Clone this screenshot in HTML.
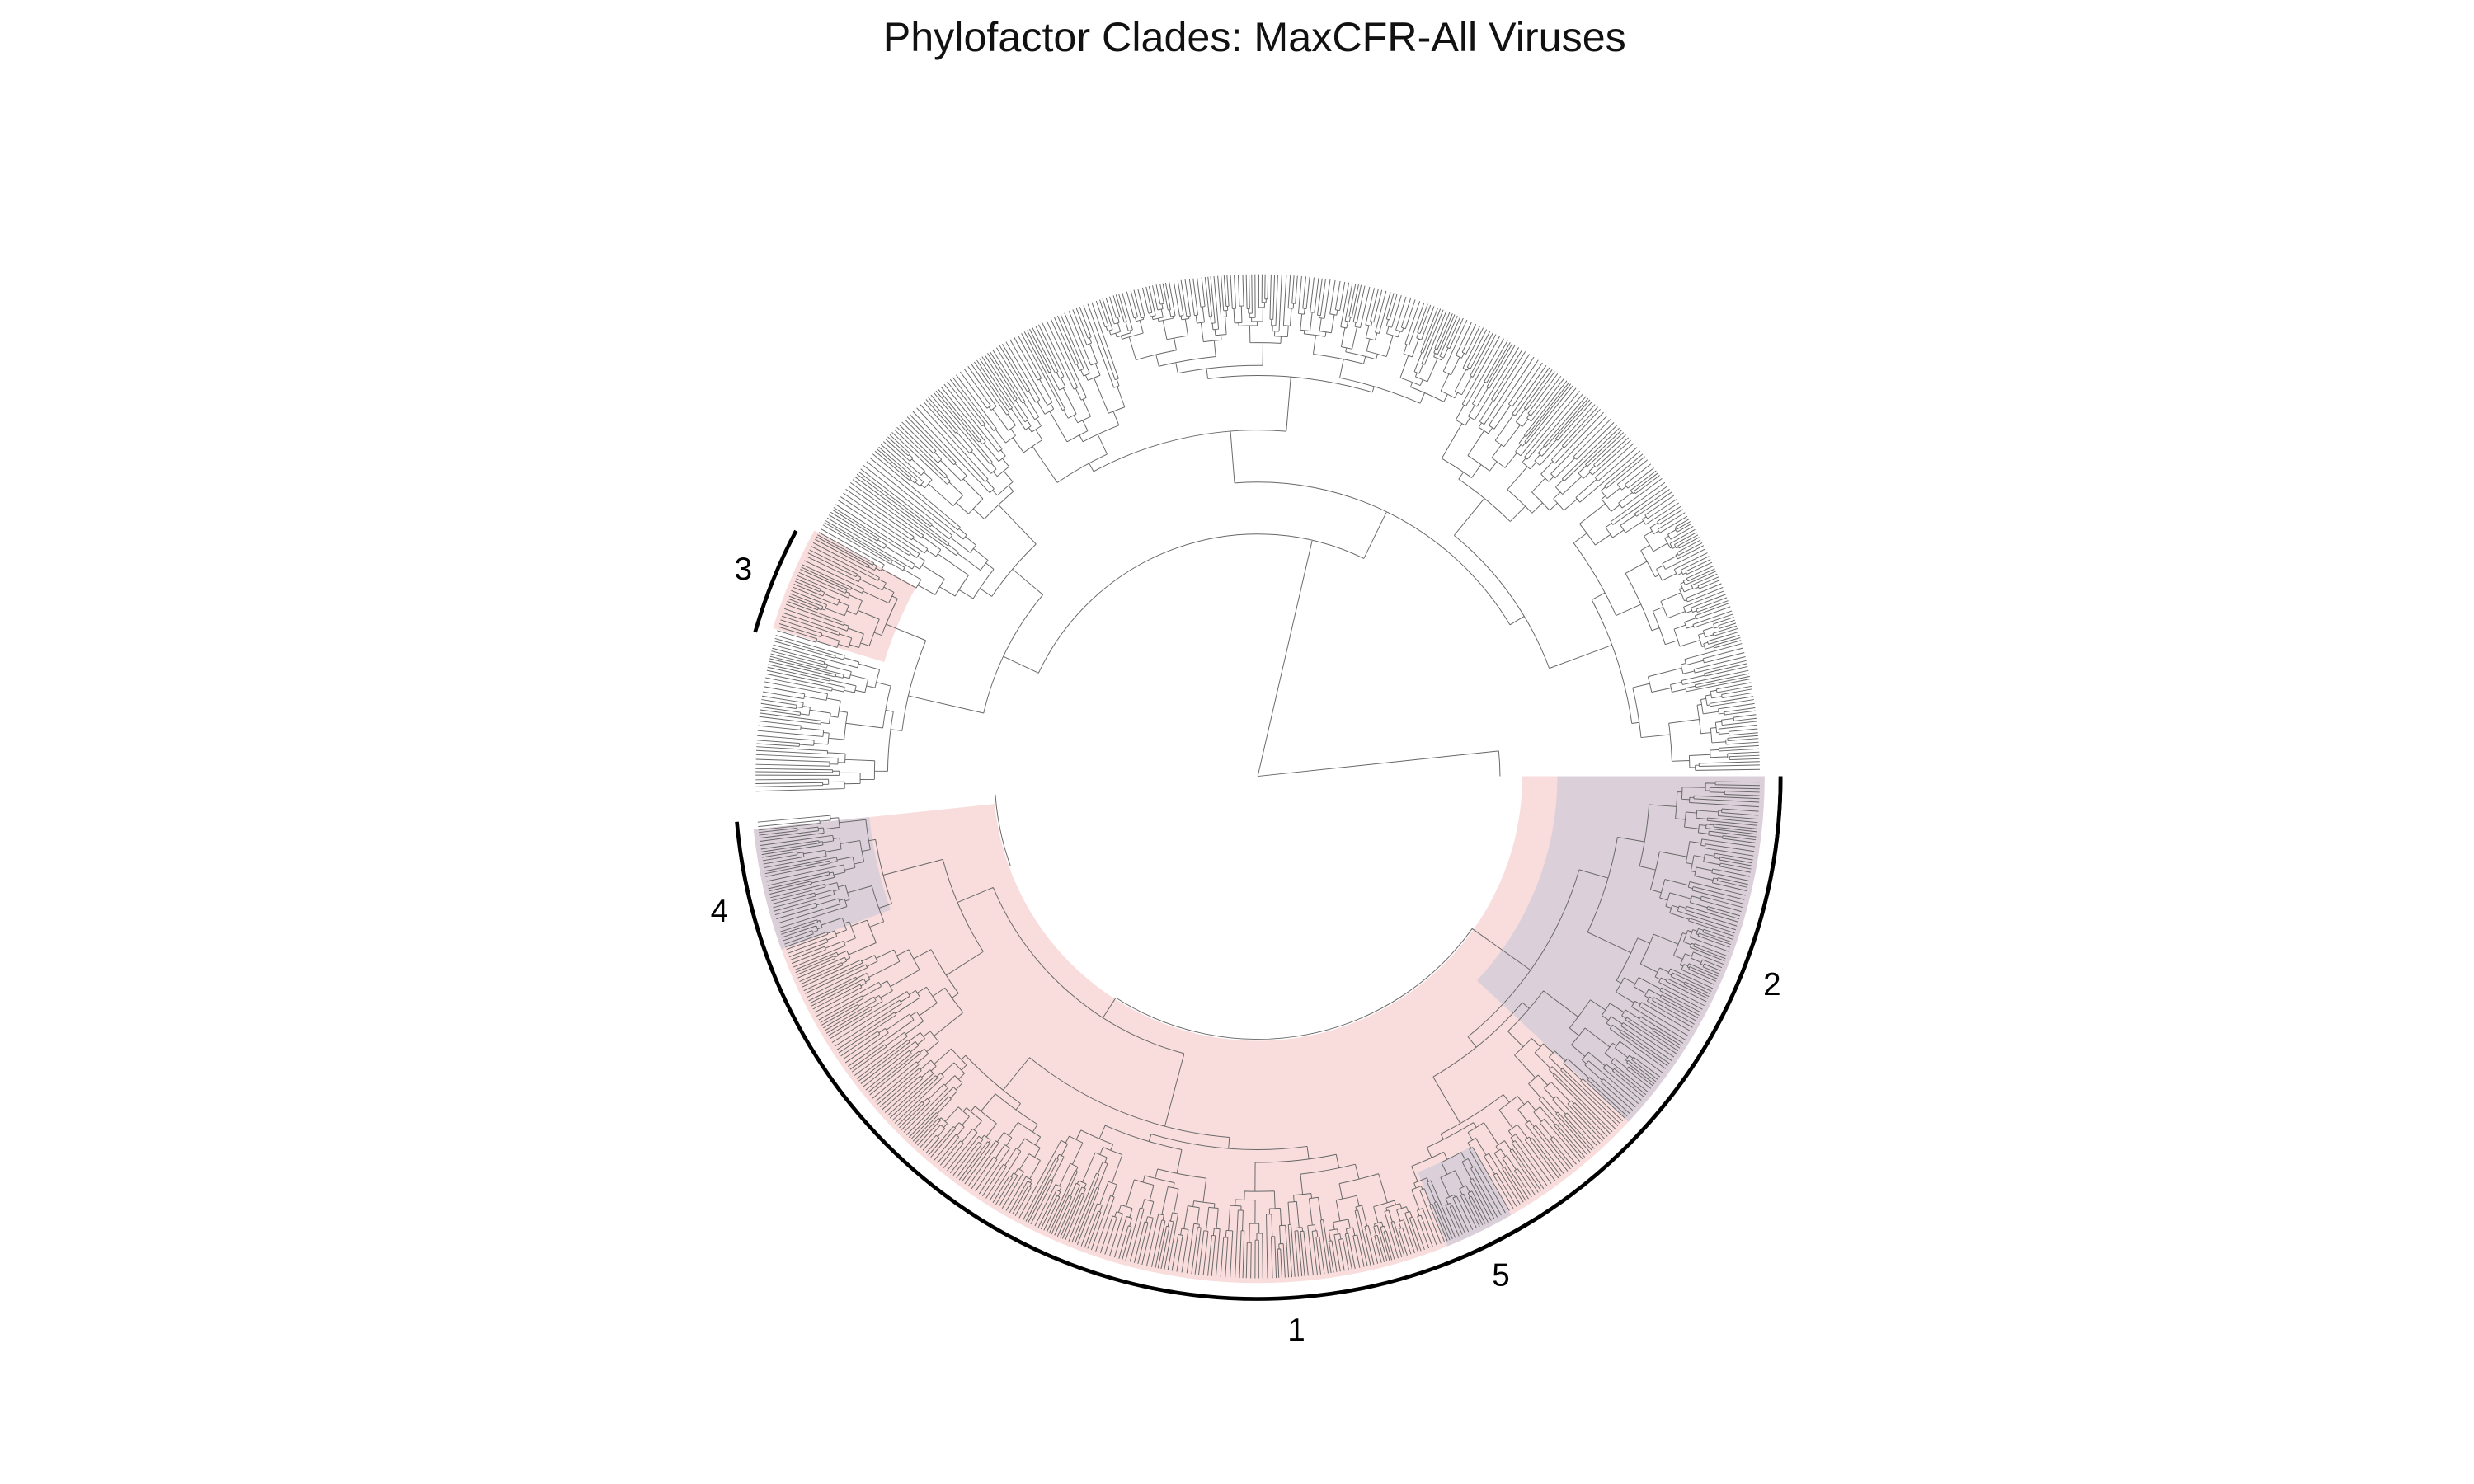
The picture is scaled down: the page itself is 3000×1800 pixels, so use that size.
<!DOCTYPE html>
<html><head><meta charset="utf-8"><title>Phylofactor Clades</title>
<style>html,body{margin:0;padding:0;background:#fff}svg{display:block}</style></head>
<body>
<svg id="chart" width="3000" height="1800" viewBox="0 0 1552 931" xmlns="http://www.w3.org/2000/svg">
<rect width="1552" height="931" fill="#fff"/>
<text x="787" y="32" text-anchor="middle" font-family="Liberation Sans, sans-serif" font-size="26" fill="#111">Phylofactor Clades: MaxCFR-All Viruses</text>
<g id="shade"></g><g id="tree"></g><g id="arcs"></g>
</svg>
<script>
const cladeNames=["1","2","3","4","5"];
const cladeStart=[0,0,197,160,60];      // degrees, clockwise from +x
const cladeEnd=[174,43,209,174,68];
const cladeInner=[166,188,245,245,268];
const cladeColor=["#f9dddd","#dbd0d9","#f9dddd","#dbd0d9","#dbd0d9"];
const arcStart=[0,0,196,158,58];
const arcEnd=[171,44,208,175,69];
const labelAngle=[86,22,202,166,64];
const splitFr=[0.5,0.35,0.62,0.45,0.7,0.28,0.55,0.4,0.66,0.52,0.3,0.58];
const stepFr=[0.12,0.2,0.08,0.3,0.15,0.25,0.1,0.18,0.35,0.06];
const cx=789,cy=487,R=315,NS="http://www.w3.org/2000/svg";
function P(r,a){const t=a*Math.PI/180;return [cx+r*Math.cos(t),cy+r*Math.sin(t)];}
function arcPath(r,a0,a1){const p=P(r,a0),q=P(r,a1);const l=(a1-a0)>180?1:0;return `M${p[0].toFixed(2)} ${p[1].toFixed(2)}A${r} ${r} 0 ${l} 1 ${q[0].toFixed(2)} ${q[1].toFixed(2)}`;}
function sector(r0,r1,a0,a1){const a=P(r1,a0),b=P(r1,a1),c=P(r0,a1),d=P(r0,a0);const l=(a1-a0)>180?1:0;
return `M${a[0]} ${a[1]}A${r1} ${r1} 0 ${l} 1 ${b[0]} ${b[1]}L${c[0]} ${c[1]}A${r0} ${r0} 0 ${l} 0 ${d[0]} ${d[1]}Z`;}
const shade=document.getElementById('shade');
for(let i=0;i<cladeNames.length;i++){
 const p=document.createElementNS(NS,'path');
 p.setAttribute('d',sector(cladeInner[i],R+3,cladeStart[i],cladeEnd[i]));
 p.setAttribute('fill',cladeColor[i]);
 
 
 shade.appendChild(p);
}
let d="",cnt=0;
function node(a0,a1,r,depth){
 const span=a1-a0;
 if(span<0.62||depth>16){const m=(a0+a1)/2;const p=P(r,m),q=P(R,m);d+=`M${p[0].toFixed(2)} ${p[1].toFixed(2)}L${q[0].toFixed(2)} ${q[1].toFixed(2)}`;return;}
 cnt++;
 const f=splitFr[(cnt*7+depth)%splitFr.length];
 const am=a0+span*f;
 const m1=(a0+am)/2,m2=(am+a1)/2;
 const g1=stepFr[(cnt*3+depth)%stepFr.length],g2=stepFr[(cnt*5+depth+1)%stepFr.length];
 const r1=Math.min(R-1,r+(R-r)*g1),r2=Math.min(R-1,r+(R-r)*g2);
 d+=arcPath(r,m1,m2);
 let p=P(r,m1),q=P(r1,m1);d+=`M${p[0].toFixed(2)} ${p[1].toFixed(2)}L${q[0].toFixed(2)} ${q[1].toFixed(2)}`;
 p=P(r,m2);q=P(r2,m2);d+=`M${p[0].toFixed(2)} ${p[1].toFixed(2)}L${q[0].toFixed(2)} ${q[1].toFixed(2)}`;
 node(a0,am,r1,depth+1);node(am,a1,r2,depth+1);
}
const rootA=[0.5,175],rootB=[178,359.5];
const mB=283;
let qb=P(152,mB);
d+=`M${cx} ${cy}L${qb[0]} ${qb[1]}`;
d+=`M${cx} ${cy}L${P(152,-6)[0]} ${P(152,-6)[1]}`;
d+=arcPath(165,160,176)+arcPath(152,354,360);
node(rootA[0],rootA[1],165,0);
node(rootB[0],rootB[1],152,0);
const tp=document.createElementNS(NS,'path');
tp.setAttribute('d',d);tp.setAttribute('fill','none');tp.setAttribute('stroke','#666');tp.setAttribute('stroke-width','0.5');


document.getElementById('tree').appendChild(tp);
const arcs=document.getElementById('arcs');
for(let i=0;i<cladeNames.length;i++){
 const a=document.createElementNS(NS,'path');
 a.setAttribute('d',arcPath(328,arcStart[i],arcEnd[i]));
 a.setAttribute('fill','none');a.setAttribute('stroke','#000');a.setAttribute('stroke-width','2.4');
 
 
 arcs.appendChild(a);
 const lp=P(348,labelAngle[i]);
 const t=document.createElementNS(NS,'text');
 t.setAttribute('x',lp[0]);t.setAttribute('y',lp[1]+7);t.setAttribute('text-anchor','middle');
 t.setAttribute('font-family','Liberation Sans, sans-serif');t.setAttribute('font-size','20');
 t.textContent=cladeNames[i];
 
 
 arcs.appendChild(t);
}
</script>
</body></html>
